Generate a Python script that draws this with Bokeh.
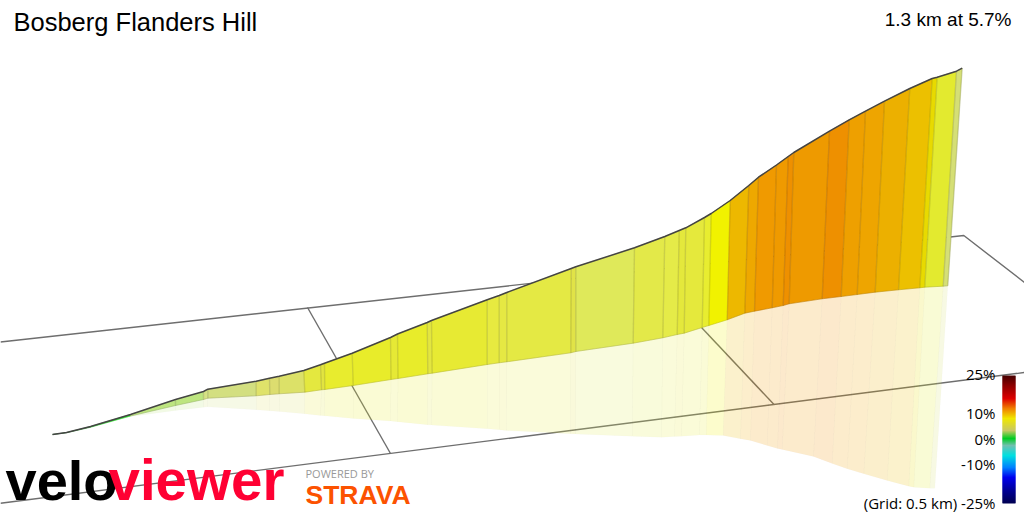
from bokeh.plotting import figure
from bokeh.models import Range1d
from bokeh.core.properties import value
from bokeh.embed import file_html
from bokeh.resources import INLINE

TITLE = "Bosberg Flanders Hill"
SUBTITLE = "1.3 km at 5.7%"
GRID_NOTE = "(Grid: 0.5 km) -25%"

# profile, as positions along the wall
top_x = [52,66,90,130,175,203,207.3,255.7,269,278.7,303.3,320,324,351.7,390,397,426.7,431,486.7,498.7,506.3,570.7,575.3,634,664.3,678.7,685.3,704,710.7,729.7,748.3,758,776,787.7,793.3,829,848.7,865,884,909.3,931.7,936.7,956,961.7]
top_y = [434,432,426,414,399,391,388.7,380.7,377.7,375.7,370,364.3,362.7,352.7,337,333.5,322,320,299.3,295,292,268,266.3,247.3,236,230,227.3,217,213,200,185,176.7,164.5,156,152,130.7,119.3,110.7,100.7,88,78,76.7,70.7,67.7]
floor_x = [52,66,90,130,175,203,207.3,255.7,269.3,278.7,304.3,321,324.3,352.7,390.5,397.5,427.3,431.7,486.7,498.7,506.3,570.3,575.3,632.7,662.3,676.7,683.7,701.7,708.3,726.7,744.3,754,771.7,782.7,788.7,821.7,840.7,856.7,874.7,898,919.3,924.3,942.7,947.3]
floor_y = [434,432.3,426.8,415.5,405,399,397.7,395.3,394,393.3,391.7,389.3,389,385,379,378,373.3,372.7,364,362.3,361.3,352.3,351,342.7,337.3,334,332.7,327,325,319.3,312.7,310.7,307.3,305,303.3,298.3,296,294,291.7,289.3,287.3,286.7,285.7,285.3]
shadow_x = [52,66,90,130,175,203,207,256,269,279,304,320,324,352.7,390,397,427,431,486.7,498.7,506,570,575,631.7,661,674,681,699,705.7,722.7,740,750,766.7,777,781.7,813,831.7,846.7,863.3,886.7,908.3,913.3,929.3,934.3]
shadow_y = [434,432.3,426.8,416,410,406.7,406.3,409.3,410.3,411,413.3,415,415.3,418,420.5,421.2,424.3,424.6,428.3,429.2,430,433.3,433.5,435.7,436.7,436,435.7,434.5,434.5,435,438.3,440,445,448,449,456,463,468.3,473.3,480,485.7,486.7,487.7,487.7]
segment_colors = ["#2f8f2f","#2f9f2f","#22dd22","#bde57f","#bde57f","#d6e284","#d3df80","#dfe26a","#dcdd6f","#dce168","#e4e83f","#e2e440","#e8ec2e","#e8ec2a","#e6e935","#e8ec2a","#e3e640","#e7ea33","#e7ea40","#e5e843","#e4e944","#e1e347","#dfe95a","#e3e949","#e5eb48","#e4e83c","#e5e93c","#e8ed30","#f1f200","#edb800","#eea800","#f09a00","#ef9a00","#ee9000","#ee9a00","#ee9000","#eea000","#eea500","#ecb000","#ecc000","#e8da00","#e3ea2f","#d5df75"]

# ground grid
grid_x = [[0,963.3,1024],[0,1024],[307,390],[701,773.5]]
grid_y = [[341.5,235,282],[502.7,372],[307,453],[327,404]]

# colour scale
scale_labels = ["25%","10%","0%","-10%"]
scale_label_y = [373,412,438,463]
scale_stop_y = [375,385,398,408,418,430,438,445,455,467,477,490,503]
scale_stop_rgb = [(70,0,0),(140,0,0),(221,0,0),(240,128,0),(240,232,0),(200,200,100),(0,204,34),(112,192,176),(0,224,224),(0,128,255),(0,0,238),(0,0,150),(0,0,80)]

p = figure(width=1024, height=512, output_backend="svg", toolbar_location=None,
           x_range=Range1d(0,1024), y_range=Range1d(512,0),
           x_axis_type=None, y_axis_type=None, min_border=0, outline_line_color=None)
p.grid.visible = False
p.background_fill_color = "white"

p.multi_line(grid_x, grid_y, line_color="#6e6e6e", line_width=1.4)

n = len(segment_colors)
p.patches([[floor_x[i],floor_x[i+1],shadow_x[i+1],shadow_x[i]] for i in range(n)],
          [[floor_y[i],floor_y[i+1],shadow_y[i+1],shadow_y[i]] for i in range(n)],
          fill_color=segment_colors, fill_alpha=0.2, line_color="black", line_alpha=0.012, line_width=1)
p.patches([[top_x[i],top_x[i+1],floor_x[i+1],floor_x[i]] for i in range(n)],
          [[top_y[i],top_y[i+1],floor_y[i+1],floor_y[i]] for i in range(n)],
          fill_color=segment_colors, line_color=segment_colors, line_width=0.5)
p.multi_line([[top_x[i],floor_x[i]] for i in range(3,len(top_x))],
             [[top_y[i],floor_y[i]] for i in range(3,len(top_x))],
             line_color="black", line_alpha=0.12, line_width=1.4)
p.line(floor_x[3:], floor_y[3:], line_color="black", line_alpha=0.12, line_width=1)
p.line(top_x, top_y, line_color="#444444", line_width=1.5)

# colour bar
rows_t, rows_b, rows_c = [], [], []
for y in range(375, 503):
    j = max(k for k in range(len(scale_stop_y)-1) if scale_stop_y[k] <= y)
    f = (y - scale_stop_y[j]) / (scale_stop_y[j+1] - scale_stop_y[j])
    a, b = scale_stop_rgb[j], scale_stop_rgb[j+1]
    rows_t.append(y); rows_b.append(y+1)
    rows_c.append("#%02x%02x%02x" % tuple(int(a[q]+(b[q]-a[q])*f) for q in range(3)))
p.quad(left=1002, right=1015, top=rows_t, bottom=rows_b, fill_color=rows_c, line_color=None)
p.quad(left=1002, right=1015, top=[r - 0.5 for r in rows_t[1:]], bottom=[r + 0.5 for r in rows_t[1:]], fill_color=rows_c[1:], line_color=None)

def label(x, y, text, size, color="black", font="Open Sans", align="left", style="normal"):
    p.text(x=[x], y=[y], text=[text], text_font=value(font), text_font_size=size, text_color=color,
           text_align=align, text_baseline="middle", text_font_style=style)

label(13, 21, TITLE, "25.5px", font="Liberation Sans")
label(1011, 19, SUBTITLE, "19px", font="Liberation Sans", align="right")
for t, y in zip(scale_labels, scale_label_y):
    label(995, y, t, "15px", align="right")
label(995, 502, GRID_NOTE, "15px", align="right")

label(5, 480, "velo", "56px", color="#000000", font="Liberation Sans", style="bold")
label(108, 480, "viewer", "56.5px", color="#ff0033", font="Liberation Sans", style="bold")
label(305, 473, "POWERED BY", "11px", color="#999999", font="Open Sans")
label(305, 494, "STRAVA", "26.5px", color="#fc5200", font="Liberation Sans", style="bold")

open("out.html", "w").write(file_html(p, INLINE))
